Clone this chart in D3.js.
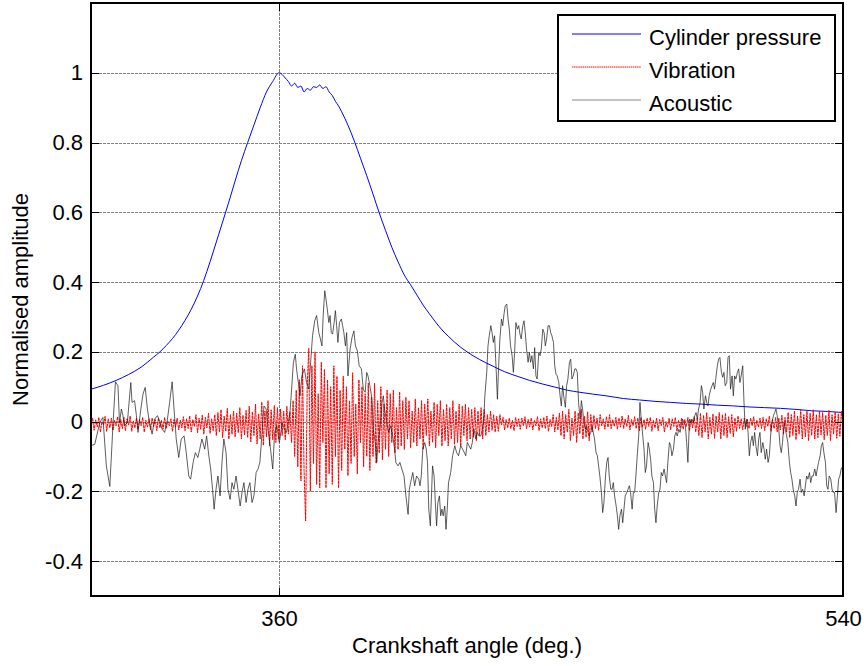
<!DOCTYPE html>
<html>
<head>
<meta charset="utf-8">
<script src="https://cdnjs.cloudflare.com/ajax/libs/d3/7.8.5/d3.min.js"></script>
<style>
  body { margin: 0; background: #fff; }
  svg { display: block; font-family: "Liberation Sans", Arial, sans-serif; }
</style>
</head>
<body>
<div class="container"><svg></svg></div>
<script>
// crank angle range and ticks
const xDomain = [300, 540];
const yDomain = [-0.5, 1.2];
const xTicks = [360, 540];
const xTickLabels = ["360", "540"];
const yTicks = [-0.4, -0.2, 0, 0.2, 0.4, 0.6, 0.8, 1];
const yTickLabels = ["-0.4", "-0.2", "0", "0.2", "0.4", "0.6", "0.8", "1"];
const seriesNames = ["Cylinder pressure", "Vibration", "Acoustic"];

// cylinder pressure (normalised)
const pressureAngle = [300, 304, 308, 312, 316, 320, 322, 324, 326, 328, 330, 332, 334, 336, 338, 340, 342, 344, 346, 348,
  350, 352, 354, 356, 358, 360, 361, 362, 363, 364, 365, 366, 367, 368, 369, 370, 371, 372, 373, 374,
  375, 376, 377, 378, 379, 380, 382, 384, 386, 388, 390, 392, 394, 396, 398, 400, 402, 404, 406, 408,
  410, 412, 414, 416, 418, 420, 424, 428, 432, 436, 440, 444, 448, 452, 456, 460, 465, 470, 475, 480,
  485, 490, 495, 500, 505, 510, 515, 520, 525, 530, 535, 540];
const pressureValue = [0.093, 0.104, 0.118, 0.135, 0.156, 0.185, 0.2, 0.218, 0.238, 0.262, 0.29, 0.322, 0.36, 0.405, 0.458, 0.515, 0.572, 0.63, 0.69, 0.748,
  0.8, 0.85, 0.9, 0.945, 0.975, 1.0, 0.995, 0.985, 0.975, 0.962, 0.97, 0.958, 0.962, 0.945, 0.955, 0.95, 0.96, 0.958, 0.965, 0.955,
  0.96, 0.945, 0.935, 0.918, 0.905, 0.888, 0.85, 0.805, 0.755, 0.705, 0.652, 0.598, 0.548, 0.5, 0.458, 0.42, 0.392, 0.363, 0.334, 0.309,
  0.285, 0.263, 0.245, 0.228, 0.213, 0.2, 0.178, 0.16, 0.143, 0.13, 0.118, 0.108, 0.099, 0.09, 0.084, 0.079, 0.073, 0.066, 0.062, 0.058,
  0.055, 0.052, 0.05, 0.047, 0.045, 0.042, 0.04, 0.038, 0.035, 0.031, 0.029, 0.026];

// vibration, sampled every 0.5 deg from 300
const vibrationStart = 300;
const vibrationStep = 0.5;
const vibration = [
  -0.02, 0.01, -0.025, 0.005, -0.015, 0.012, -0.03, 0.0, -0.01, 0.015, -0.028, 0.008, -0.018, 0.01, -0.025, 0.004, -0.012, 0.014, -0.03, 0.006,
  -0.02, 0.012, -0.026, 0.008, -0.01, 0.016, -0.028, 0.002, -0.018, 0.01, -0.022, 0.006, -0.012, 0.012, -0.03, 0.004, -0.016, 0.008, -0.024, 0.01,
  -0.014, 0.006, -0.026, 0.01, -0.018, 0.004, -0.022, 0.012, -0.02, 0.002, -0.012, 0.008, -0.028, 0.006, -0.016, 0.01, -0.024, 0.004, -0.018, 0.014,
  -0.026, 0.008, -0.02, 0.016, -0.03, 0.006, -0.014, 0.02, -0.032, 0.01, -0.022, 0.018, -0.036, 0.012, -0.018, 0.024, -0.034, 0.008, -0.026, 0.02,
  -0.04, 0.026, -0.03, 0.034, -0.046, 0.016, -0.028, 0.038, -0.05, 0.02, -0.036, 0.03, -0.044, 0.024, -0.032, 0.04, -0.05, 0.018, -0.038, 0.032,
  -0.046, 0.044, -0.058, 0.028, -0.04, 0.05, -0.064, 0.022, -0.05, 0.056, -0.068, 0.03, -0.044, 0.06, -0.07, 0.034, -0.052, 0.046, -0.06, 0.04,
  -0.05, 0.036, -0.04, 0.03, -0.052, 0.044, -0.036, 0.028, -0.06, 0.06, -0.1, 0.09, -0.13, 0.12, -0.17, 0.16, -0.14, -0.285, 0.1, 0.21,
  -0.2, 0.16, -0.12, 0.2, -0.18, 0.08, -0.19, 0.17, -0.06, 0.15, -0.19, 0.12, -0.15, 0.1, -0.18, 0.16, -0.1, 0.13, -0.19, 0.09,
  -0.14, 0.13, -0.08, 0.1, -0.155, 0.06, -0.12, 0.14, -0.1, 0.05, -0.15, 0.12, -0.06, 0.1, -0.13, 0.08, -0.1, 0.11, -0.14, 0.07,
  -0.1, 0.11, -0.12, 0.06, -0.09, 0.1, -0.11, 0.05, -0.08, 0.09, -0.1, 0.08, -0.06, 0.09, -0.09, 0.04, -0.08, 0.085, -0.07, 0.06,
  -0.08, 0.07, -0.05, 0.06, -0.075, 0.03, -0.06, 0.065, -0.07, 0.04, -0.05, 0.06, -0.08, 0.05, -0.04, 0.065, -0.07, 0.03, -0.06, 0.055,
  -0.075, 0.05, -0.04, 0.06, -0.07, 0.035, -0.055, 0.05, -0.07, 0.04, -0.05, 0.06, -0.065, 0.03, -0.06, 0.05, -0.07, 0.045, -0.04, 0.05,
  -0.055, 0.04, -0.05, 0.035, -0.045, 0.04, -0.055, 0.03, -0.04, 0.04, -0.05, 0.035, -0.04, 0.02, -0.03, 0.03, -0.025, 0.02, -0.03, 0.015,
  -0.028, 0.02, -0.01, 0.012, -0.024, 0.006, -0.018, 0.01, -0.02, 0.004, -0.026, 0.012, -0.014, 0.008, -0.022, 0.01, -0.012, 0.014, -0.02, 0.006,
  -0.016, 0.01, -0.024, 0.004, -0.012, 0.014, -0.026, 0.008, -0.018, 0.012, -0.02, 0.016, -0.028, 0.006, -0.014, 0.02, -0.03, 0.012, -0.024, 0.024,
  -0.04, 0.03, -0.05, 0.02, -0.03, 0.035, -0.055, 0.01, -0.04, 0.03, -0.06, 0.025, -0.035, 0.035, -0.05, 0.015, -0.045, 0.028, -0.055, 0.02,
  -0.03, 0.018, -0.02, 0.01, -0.025, 0.02, -0.012, 0.008, -0.022, 0.014, -0.016, 0.02, -0.02, 0.006, -0.014, 0.012, -0.022, 0.01, -0.016, 0.016,
  -0.02, 0.008, -0.014, 0.018, -0.024, 0.006, -0.012, 0.014, -0.02, 0.01, -0.026, 0.012, -0.016, 0.006, -0.022, 0.01, -0.014, 0.012, -0.028, 0.004,
  -0.018, 0.01, -0.026, 0.006, -0.012, 0.012, -0.03, 0.0, -0.016, 0.01, -0.024, 0.008, -0.014, 0.012, -0.028, 0.004, -0.018, 0.01, -0.022, 0.006,
  -0.014, 0.012, -0.026, 0.006, -0.018, 0.014, -0.03, 0.01, -0.04, 0.024, -0.046, 0.018, -0.03, 0.026, -0.05, 0.012, -0.036, 0.022, -0.048, 0.016,
  -0.03, 0.026, -0.05, 0.02, -0.04, 0.024, -0.046, 0.014, -0.034, 0.02, -0.044, 0.01, -0.028, 0.016, -0.02, 0.008, -0.024, 0.01, -0.016, 0.006,
  -0.02, 0.01, -0.012, 0.014, -0.024, 0.004, -0.016, 0.01, -0.02, 0.012, -0.026, 0.008, -0.014, 0.016, -0.028, 0.006, -0.02, 0.012, -0.03, 0.01,
  -0.024, 0.018, -0.036, 0.012, -0.03, 0.026, -0.046, 0.02, -0.04, 0.03, -0.052, 0.016, -0.036, 0.034, -0.05, 0.02, -0.044, 0.03, -0.055, 0.024,
  -0.04, 0.034, -0.05, 0.02, -0.046, 0.03, -0.038, 0.026, -0.052, 0.018, -0.04, 0.032, -0.055, 0.02, -0.036, 0.028, -0.048, 0.022, -0.042, 0.03, -0.02
];

// acoustic [angle, value]
const acoustic = [
  [300, -0.069], [301.2, -0.065], [302.8, -0.003], [303.8, 0.012], [304.9, -0.127], [306, -0.186], [307, -0.012], [307.8, 0.114],
  [308.6, 0.103], [309.1, -0.003], [309.7, 0.036], [310.2, 0.017], [310.7, -0.012], [311.6, -0.003], [312.7, 0.112], [313.1, 0.055],
  [313.9, 0.06], [314.5, 0.017], [315, -0.031], [315.9, 0.036], [316.6, 0.079], [317.3, 0.098], [318, 0.036], [318.7, -0.003],
  [319.5, -0.036], [320.3, 0.007], [321.2, 0.017], [321.9, 0.002], [322.7, -0.022], [323.5, -0.031], [324.4, 0.007], [325.1, 0.055],
  [325.9, 0.114], [326.5, 0.036], [327.2, -0.05], [328, -0.103], [328.8, -0.05], [329.7, -0.041], [330.4, -0.089], [331.2, -0.156],
  [331.8, -0.165], [332.6, -0.117], [333.3, -0.089], [334.1, -0.103], [334.7, -0.079], [335.4, -0.05], [336.3, -0.079], [336.9, -0.041],
  [337.6, -0.098], [338.2, -0.136], [338.8, -0.194], [339.3, -0.251], [339.9, -0.194], [340.5, -0.156], [341.2, -0.213], [341.8, -0.117],
  [342.4, -0.05], [343.1, -0.089], [343.7, -0.194], [344.4, -0.223], [345, -0.175], [345.6, -0.194], [346.3, -0.156], [346.9, -0.194],
  [347.6, -0.242], [348.2, -0.203], [348.8, -0.175], [349.5, -0.232], [350.1, -0.194], [350.7, -0.175], [351.4, -0.232], [352, -0.213],
  [352.7, -0.146], [353.3, -0.136], [353.9, -0.117], [354.6, -0.031], [355.2, 0.045], [355.9, 0.036], [356.5, -0.022], [357.3, -0.079],
  [358, -0.136], [358.6, -0.031], [359.3, -0.012], [360.1, -0.06], [360.3, -0.05], [361, -0.003], [361.7, -0.022], [362.4, -0.031],
  [363.1, 0.007], [363.5, 0.026], [364.1, 0.103], [364.6, 0.17], [365.2, 0.193], [365.6, 0.151], [366.3, 0.103], [366.7, 0.074],
  [367.3, 0.131], [368.1, 0.151], [368.8, 0.112], [369.5, 0.093], [370.1, 0.17], [370.7, 0.246], [371.4, 0.289], [372, 0.304],
  [372.7, 0.255], [373.1, 0.241], [373.7, 0.217], [374.1, 0.304], [374.6, 0.375], [375, 0.351], [375.4, 0.323], [375.9, 0.284],
  [376.3, 0.304], [376.7, 0.255], [377.1, 0.251], [377.6, 0.284], [378, 0.318], [378.4, 0.275], [378.8, 0.227], [379.3, 0.284],
  [379.9, 0.294], [380.3, 0.275], [380.7, 0.255], [381.2, 0.217], [381.6, 0.255], [382, 0.131], [382.7, 0.208], [383.3, 0.241],
  [383.9, 0.26], [384.4, 0.217], [385, 0.203], [385.6, 0.16], [386.3, 0.151], [386.9, 0.093], [387.5, 0.084], [388, 0.141],
  [388.4, 0.131], [389, 0.103], [389.7, 0.064], [390.1, -0.022], [390.7, -0.06], [391.2, -0.117], [391.6, -0.06], [392.2, -0.022],
  [392.9, 0.055], [393.3, 0.074], [393.7, 0.036], [394.4, -0.003], [395, -0.031], [395.6, -0.012], [396.3, -0.041], [396.9, -0.079],
  [397.3, -0.117], [398, -0.127], [398.6, -0.117], [399.2, -0.136], [399.9, -0.156], [400.5, -0.213], [401.2, -0.266], [401.6, -0.194],
  [402, -0.175], [402.7, -0.146], [403.3, -0.184], [403.9, -0.156], [404.6, -0.165], [405, -0.184], [405.4, -0.156], [405.9, -0.079],
  [406.5, -0.06], [407, -0.079], [407.4, -0.117], [407.8, -0.251], [408.3, -0.299], [408.7, -0.203], [409, -0.127], [409.5, -0.156],
  [409.9, -0.232], [410.3, -0.299], [410.7, -0.232], [411.2, -0.213], [411.6, -0.27], [412, -0.251], [412.4, -0.27], [412.9, -0.242],
  [413.3, -0.309], [413.7, -0.251], [414.1, -0.175], [414.8, -0.146], [415.4, -0.098], [416.1, -0.069], [416.7, -0.089], [417.3, -0.098],
  [418, -0.069], [418.6, -0.079], [419.2, -0.09], [419.6, -0.098], [420.1, -0.06], [420.6, -0.069], [421.2, -0.079], [421.7, -0.06],
  [422.2, -0.022], [422.8, -0.05], [423.3, -0.031], [423.8, -0.041], [424.4, -0.041], [424.9, -0.022], [425.4, 0.017], [425.7, 0.074],
  [426.3, 0.141], [426.7, 0.217], [427.1, 0.246], [427.6, 0.275], [428, 0.255], [428.4, 0.227], [428.8, 0.246], [429.3, 0.151],
  [429.7, 0.064], [430.1, 0.16], [430.5, 0.237], [431, 0.294], [431.4, 0.275], [431.8, 0.308], [432.2, 0.332], [432.7, 0.337],
  [433.1, 0.294], [433.5, 0.265], [433.9, 0.217], [434.4, 0.189], [434.8, 0.141], [435.2, 0.198], [435.6, 0.284], [436.1, 0.265],
  [436.5, 0.275], [436.9, 0.251], [437.3, 0.237], [437.8, 0.275], [438.2, 0.289], [438.6, 0.255], [439, 0.208], [439.5, 0.17],
  [439.9, 0.198], [440.3, 0.17], [440.7, 0.189], [441.2, 0.151], [441.6, 0.212], [442, 0.131], [442.4, 0.122], [442.9, 0.198],
  [443.3, 0.189], [443.7, 0.208], [444.2, 0.265], [444.6, 0.255], [445, 0.217], [445.4, 0.237], [445.9, 0.275], [446.3, 0.275],
  [446.7, 0.255], [447.1, 0.246], [447.6, 0.227], [448, 0.16], [448.4, 0.136], [448.8, 0.131], [449.3, 0.112], [449.7, 0.074],
  [450.1, 0.045], [450.5, 0.103], [451, 0.064], [451.4, 0.041], [451.8, 0.103], [452.2, 0.122], [452.7, 0.17], [453.1, 0.179],
  [453.5, 0.122], [453.9, 0.131], [454.4, 0.151], [454.8, 0.151], [455.2, 0.141], [455.6, 0.055], [456.1, 0.007], [456.5, 0.06],
  [456.9, 0.036], [457.3, -0.003], [457.8, -0.022], [458.2, -0.012], [458.6, -0.031], [459, -0.041], [459.5, -0.031], [459.9, -0.012],
  [460.3, -0.031], [460.7, -0.05], [461.2, -0.089], [461.6, -0.098], [462, -0.127], [462.4, -0.156], [462.9, -0.203], [463.3, -0.261],
  [463.7, -0.232], [464.2, -0.156], [464.6, -0.117], [465, -0.103], [465.4, -0.156], [465.9, -0.194], [466.3, -0.194], [466.7, -0.175],
  [467.1, -0.213], [467.6, -0.242], [468, -0.27], [468.4, -0.309], [468.8, -0.27], [469.3, -0.251], [469.7, -0.29], [470.1, -0.251],
  [470.5, -0.213], [471, -0.203], [471.4, -0.194], [471.8, -0.184], [472.2, -0.203], [472.7, -0.251], [473.1, -0.203], [473.5, -0.203],
  [473.9, -0.156], [474.4, -0.089], [474.8, -0.041], [475.2, 0.055], [475.6, 0.007], [476.1, -0.041], [476.5, -0.079], [476.9, -0.146],
  [477.3, -0.127], [477.8, -0.06], [478.2, -0.079], [478.6, -0.108], [479, -0.156], [479.5, -0.175], [479.9, -0.251], [480.3, -0.29],
  [480.7, -0.242], [481.2, -0.203], [481.6, -0.194], [482, -0.146], [482.4, -0.156], [482.9, -0.136], [483.3, -0.156], [483.7, -0.175],
  [484.1, -0.117], [484.6, -0.06], [485, -0.069], [485.4, -0.098], [485.9, -0.079], [486.3, -0.041], [486.7, -0.031], [487.1, -0.041],
  [487.6, -0.022], [488, -0.031], [488.4, -0.012], [488.8, 0.007], [489.3, -0.003], [489.7, -0.012], [490.1, -0.06], [490.5, -0.117],
  [491, 0.007], [491.4, -0.003], [491.8, 0.007], [492.2, -0.003], [492.7, 0.017], [493.1, 0.026], [493.5, 0.007], [493.9, 0.036],
  [494.4, 0.055], [494.8, 0.103], [495.2, 0.084], [495.6, 0.036], [496.1, 0.074], [496.5, 0.055], [496.9, 0.045], [497.3, 0.074],
  [497.8, 0.093], [498.2, 0.103], [498.6, 0.112], [499, 0.093], [499.5, 0.131], [499.9, 0.16], [500.3, 0.179], [500.7, 0.184],
  [501.2, 0.141], [501.6, 0.127], [502, 0.141], [502.4, 0.103], [502.9, 0.112], [503.3, 0.184], [503.7, 0.189], [504.1, 0.093],
  [504.6, 0.131], [505, 0.074], [505.4, 0.131], [505.8, 0.122], [506.3, 0.141], [506.7, 0.151], [507.1, 0.112], [507.5, 0.131],
  [508, 0.16], [508.4, 0.055], [508.8, -0.022], [509.3, 0.007], [509.7, -0.031], [510.1, -0.098], [510.5, -0.06], [511, -0.041],
  [511.4, -0.069], [511.8, -0.031], [512.2, -0.069], [512.7, -0.098], [513.1, -0.05], [513.5, -0.031], [513.9, -0.089], [514.4, -0.06],
  [514.8, -0.079], [515.2, -0.108], [515.6, -0.079], [516.1, -0.117], [516.5, -0.098], [516.9, -0.041], [517.3, -0.003], [517.8, 0.017],
  [518.2, 0.026], [518.6, 0.036], [519, 0.017], [519.5, -0.022], [519.9, -0.069], [520.3, -0.089], [520.7, -0.06], [521.2, -0.003],
  [521.6, -0.022], [522, -0.041], [522.4, -0.06], [522.9, -0.117], [523.3, -0.146], [523.7, -0.165], [524.1, -0.194], [524.6, -0.213],
  [525, -0.242], [525.4, -0.203], [525.8, -0.194], [526.3, -0.165], [526.7, -0.203], [527.1, -0.194], [527.6, -0.213], [528, -0.184],
  [528.4, -0.156], [528.8, -0.165], [529.3, -0.146], [529.7, -0.175], [530.1, -0.156], [530.5, -0.156], [531, -0.136], [531.4, -0.156],
  [531.8, -0.136], [532.2, -0.117], [532.7, -0.098], [533.1, -0.069], [533.5, -0.06], [533.9, -0.089], [534.4, -0.117], [534.8, -0.184],
  [535.2, -0.194], [535.6, -0.156], [536.1, -0.165], [536.5, -0.194], [536.9, -0.203], [537.3, -0.203], [537.8, -0.261], [538.2, -0.213],
  [538.6, -0.165], [539, -0.156], [539.4, -0.136], [540, -0.127]
];

const colors = ["#0000ff", "#ff0000", "#1a1a1a"];

var margin = { top: 3, right: 21, bottom: 70, left: 91 };
let width = 864 - margin.left - margin.right;
let height = 666 - margin.top - margin.bottom;

const svg = d3
  .select("svg")
  .attr("width", 864)
  .attr("height", 666);

const g = svg
  .append("g")
  .attr("transform", `translate(${margin.left}, ${margin.top})`);

let x = d3.scaleLinear().domain(xDomain).range([0, width]);
let y = d3.scaleLinear().domain(yDomain).range([height, 0]);

g.append("clipPath")
  .attr("id", "plot-clip")
  .append("rect")
  .attr("width", width)
  .attr("height", height);

// grid
const xGrid = d3.axisBottom(x).tickValues(xTicks).tickSize(-height).tickFormat("");
const yGrid = d3.axisLeft(y).tickValues(yTicks).tickSize(-width).tickFormat("");

g.append("g")
  .attr("class", "grid")
  .attr("transform", `translate(0, ${height})`)
  .call(xGrid);
g.append("g").attr("class", "grid").call(yGrid);

g.selectAll(".grid .domain").remove();
g.selectAll(".grid line")
  .attr("stroke", "#808080")
  .attr("stroke-width", 1)
  .attr("stroke-dasharray", "3,1")
  .attr("shape-rendering", "crispEdges");

// curves
const lines = g.append("g").attr("clip-path", "url(#plot-clip)");

const pressure = pressureAngle.map((a, i) => [a, pressureValue[i]]);
const vib = vibration.map((v, i) => [vibrationStart + i * vibrationStep, v]);

const line = d3
  .line()
  .curve(d3.curveMonotoneX)
  .x((d) => x(d[0]))
  .y((d) => y(d[1]));

const rawLine = d3
  .line()
  .x((d) => x(d[0]))
  .y((d) => y(d[1]));

lines
  .append("path")
  .datum(pressure)
  .attr("fill", "none")
  .attr("stroke", colors[0])
  .attr("stroke-width", 1)
  .attr("d", line);

lines
  .append("path")
  .datum(vib)
  .attr("fill", "none")
  .attr("stroke", colors[1])
  .attr("stroke-width", 1)
  .attr("stroke-dasharray", "3,0.6")
  .attr("d", rawLine);

lines
  .append("path")
  .datum(acoustic)
  .attr("fill", "none")
  .attr("stroke", colors[2])
  .attr("stroke-width", 0.7)
  .attr("d", rawLine);

// axes, ticks pointing inward
const xAxis = d3.axisBottom(x).tickValues(xTicks).tickSize(-8).tickPadding(14)
  .tickFormat((d, i) => xTickLabels[i]);
const xTop = d3.axisTop(x).tickValues(xTicks).tickSize(-8).tickFormat("");
const yAxis = d3.axisLeft(y).tickValues(yTicks).tickSize(-8).tickPadding(8)
  .tickFormat((d, i) => yTickLabels[i]);
const yRight = d3.axisRight(y).tickValues(yTicks).tickSize(-8).tickFormat("");

g.append("g").attr("id", "x-axis").attr("transform", `translate(0, ${height})`).call(xAxis);
g.append("g").attr("class", "frame").call(xTop);
g.append("g").attr("id", "y-axis").call(yAxis);
g.append("g").attr("class", "frame").attr("transform", `translate(${width}, 0)`).call(yRight);

g.selectAll(".domain").remove();
g.selectAll("#x-axis line, #y-axis line, .frame line")
  .attr("stroke", "#000")
  .attr("shape-rendering", "crispEdges");
g.selectAll("#x-axis text, #y-axis text")
  .attr("fill", "#000")
  .style("font-size", "22px")
  .style("font-family", '"Liberation Sans", Arial, sans-serif');

g.append("rect")
  .attr("width", width)
  .attr("height", height)
  .attr("fill", "none")
  .attr("stroke", "#000")
  .attr("stroke-width", 1.3)
  .attr("shape-rendering", "crispEdges");

// axis titles
svg
  .append("text")
  .attr("x", margin.left + width / 2)
  .attr("y", 653)
  .attr("text-anchor", "middle")
  .style("font-size", "22px")
  .text("Crankshaft angle (deg.)");

svg
  .append("text")
  .attr("transform", `translate(28, ${margin.top + height / 2}) rotate(-90)`)
  .attr("text-anchor", "middle")
  .style("font-size", "22px")
  .text("Normalised amplitude");

// legend
const legend = svg.append("g").attr("id", "legend");
legend
  .append("rect")
  .attr("x", 558)
  .attr("y", 15)
  .attr("width", 277)
  .attr("height", 106)
  .attr("fill", "#fff")
  .attr("stroke", "#000")
  .attr("stroke-width", 1.3)
  .attr("shape-rendering", "crispEdges");

seriesNames.forEach((name, i) => {
  const ly = 34 + i * 33;
  const ln = legend
    .append("line")
    .attr("x1", 572)
    .attr("x2", 641)
    .attr("y1", ly)
    .attr("y2", ly)
    .attr("stroke", i === 2 ? "#888" : colors[i])
    .attr("stroke-width", 1);
  if (i === 1) ln.attr("stroke-dasharray", "1.5,0.6");
  legend
    .append("text")
    .attr("x", 649)
    .attr("y", ly + 11)
    .style("font-size", "22px")
    .text(name);
});
</script>
</body>
</html>
